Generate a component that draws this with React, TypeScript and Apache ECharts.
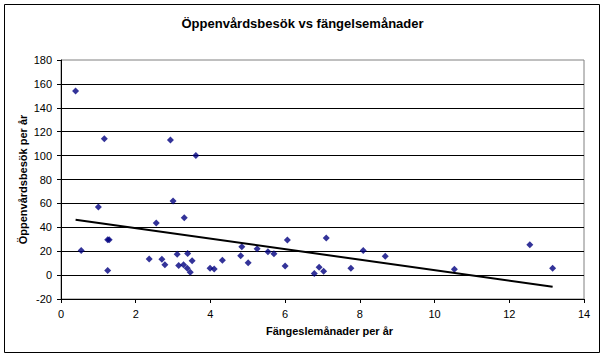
import React, { useEffect, useRef } from "react";
import * as echarts from "echarts";

const titleText = "Öppenvårdsbesök vs fängelsemånader";
const xAxisTitle = "Fängeslemånader per år";
const yAxisTitle = "Öppenvårdsbesök per år";

// Fängelsemånader per år (x) and Öppenvårdsbesök per år (y)
const prisonMonths = [
  0.39, 1.16, 2.93, 3.61, 1.0, 0.54, 1.25, 1.29, 1.25, 3.0,
  2.55, 3.3, 2.36, 2.7, 2.78, 3.11, 3.15, 3.28, 3.39, 3.38,
  3.46, 3.51, 3.99, 4.1, 4.32, 4.84, 4.81, 5.01, 5.25, 5.54,
  5.7, 6.06, 6.0, 7.1, 6.78, 6.91, 7.03, 7.76, 8.09, 8.68,
  10.53, 12.55, 13.16,
];
const outpatientVisits = [
  154, 114, 113, 100, 57, 20.5, 29.5, 29.5, 3.8, 62,
  43.5, 48, 13.5, 13.3, 8.6, 17.5, 8, 8.6, 18, 5.7,
  2.4, 12, 5.7, 5.2, 12.5, 23.7, 16.2, 10.3, 22, 19.5,
  17.8, 29.3, 7.7, 31, 1.3, 6.6, 3.2, 5.7, 20.6, 15.8,
  4.9, 25.4, 5.7,
];

// Linear trendline end points
const trendX = [0.39, 13.16];
const trendY = [46.3, -9.7];

const yTicks = { min: -20, max: 180, interval: 20 };
const xTicks = { min: 0, max: 14, interval: 2 };

const FONT = "'Liberation Sans', Arial, sans-serif";

export default function App() {
  const ref = useRef<HTMLDivElement>(null);

  useEffect(() => {
    if (!ref.current) return;
    const chart = echarts.init(ref.current, undefined, { renderer: "svg" });
    const points = prisonMonths.map((x, i) => [x, outpatientVisits[i]]);
    const trend = trendX.map((x, i) => [x, trendY[i]]);

    chart.setOption({
      animation: false,
      backgroundColor: "#ffffff",
      textStyle: { fontFamily: FONT },
      title: {
        text: titleText,
        left: "center",
        top: 12,
        textStyle: { fontFamily: FONT, fontSize: 13, fontWeight: "bold", color: "#000" },
      },
      grid: {
        left: 61,
        right: 21,
        top: 60,
        bottom: 59,
        show: true,
        borderColor: "#808080",
        borderWidth: 1,
        backgroundColor: "transparent",
      },
      xAxis: {
        type: "value",
        min: xTicks.min,
        max: xTicks.max,
        interval: xTicks.interval,
        name: xAxisTitle,
        nameLocation: "middle",
        nameGap: 26,
        nameMoveOverlap: false,
        nameTextStyle: { fontFamily: FONT, fontSize: 11, fontWeight: "bold", color: "#000", padding: [0, 0, 0, 14] },
        axisLine: { show: true, onZero: false, lineStyle: { color: "#000", width: 1 } },
        axisTick: { show: true, length: 4, lineStyle: { color: "#000" } },
        axisLabel: { color: "#000", fontSize: 11, fontFamily: FONT, margin: 9 },
        splitLine: { show: false },
      },
      yAxis: {
        type: "value",
        min: yTicks.min,
        max: yTicks.max,
        interval: yTicks.interval,
        name: yAxisTitle,
        nameLocation: "middle",
        nameGap: 33,
        nameMoveOverlap: false,
        nameTextStyle: { fontFamily: FONT, fontSize: 11, fontWeight: "bold", color: "#000" },
        axisLine: { show: true, onZero: false, lineStyle: { color: "#000", width: 1 } },
        axisTick: { show: true, length: 4, lineStyle: { color: "#000" } },
        axisLabel: { color: "#000", fontSize: 11, fontFamily: FONT, margin: 9 },
        splitLine: { show: true, showMaxLine: false, lineStyle: { color: "#000", width: 1 } },
      },
      series: [
        {
          type: "scatter",
          data: points,
          symbol: "diamond",
          symbolSize: 7,
          itemStyle: { color: "#000080" },
          z: 3,
        },
        {
          type: "line",
          data: trend,
          symbol: "none",
          lineStyle: { color: "#000", width: 2 },
          z: 4,
        },
      ],
      graphic: [
        {
          type: "rect",
          shape: { x: 4.5, y: 4.5, width: 595, height: 348 },
          style: { fill: "none", stroke: "#000", lineWidth: 1 },
          silent: true,
        },
      ],
    });

    return () => chart.dispose();
  }, []);

  return (
    <div
      ref={ref}
      style={{ position: "absolute", left: 0, top: 0, width: 605, height: 358 }}
    />
  );
}
